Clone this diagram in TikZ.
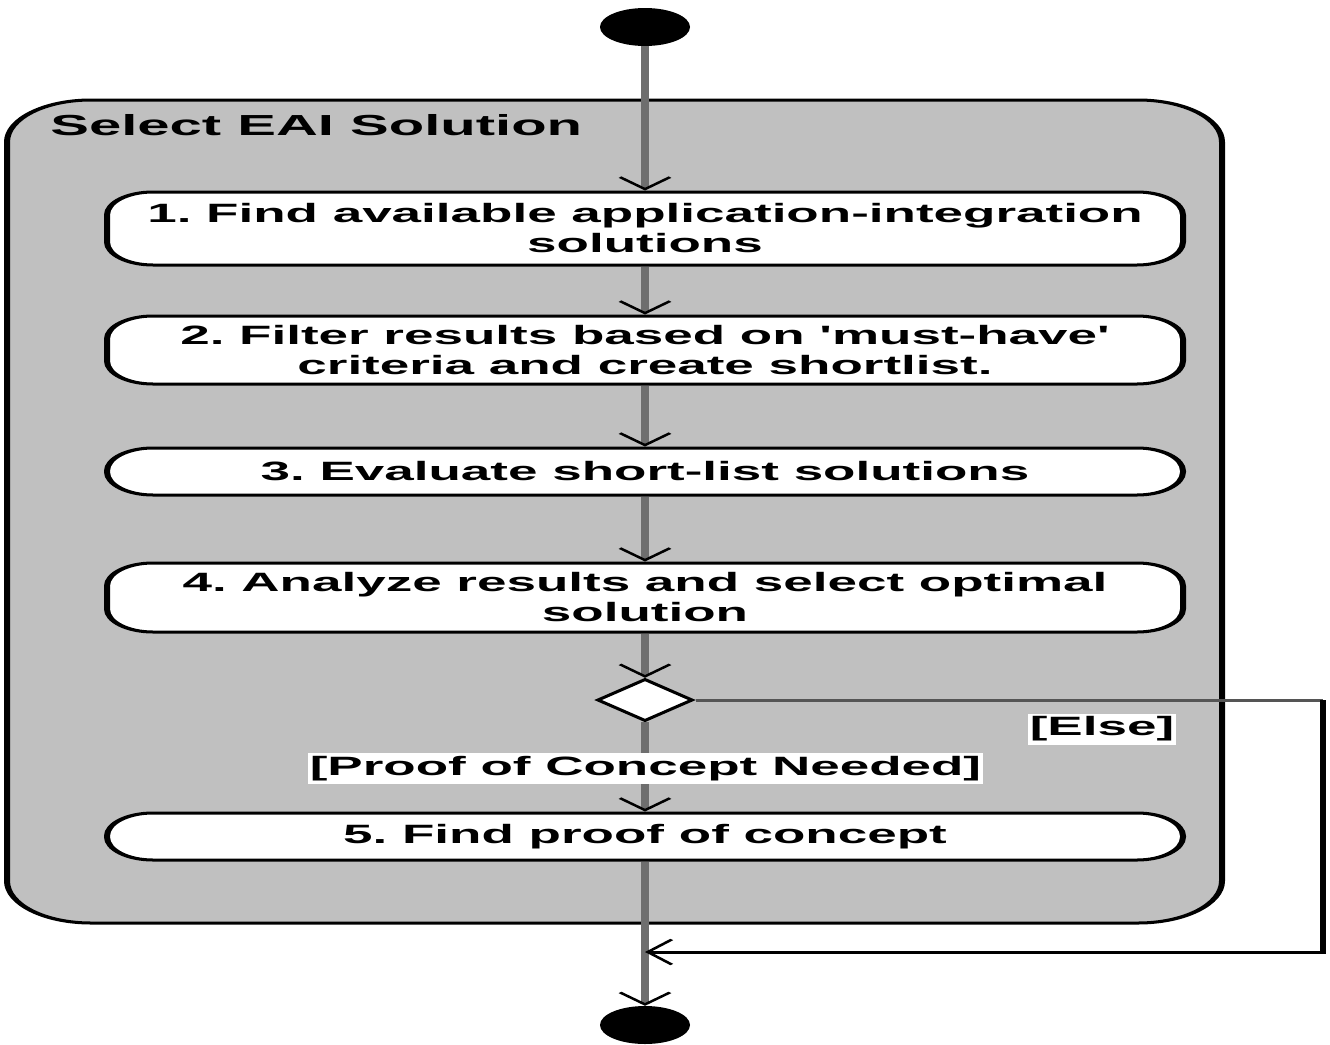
\documentclass[tikz,border=0pt]{standalone}
\usepackage{fontspec}
\setmainfont{Liberation Sans}
\usetikzlibrary{arrows.meta,shapes.geometric}
\definecolor{panelgray}{HTML}{C0C0C0}
\definecolor{flowgray}{HTML}{6E6E6E}
\definecolor{branchgray}{HTML}{555555}

\begin{document}
\frenchspacing
\begin{tikzpicture}[x=1pt,y=-1pt,
  every node/.style={font=\fontsize{26.5}{30}\selectfont\bfseries},
  panel/.style={draw=black, line width=3pt, fill=panelgray, rounded corners=42pt},
  activity/.style={draw=black, line width=3pt, fill=white, rounded corners=23pt,
                   minimum width=538pt, inner sep=0pt, align=center},
  terminal/.style={ellipse, fill=black, minimum width=45pt, minimum height=38pt, inner sep=0pt},
  choice/.style={diamond, draw=black, line width=2.5pt, fill=white,
                 minimum width=48pt, minimum height=42pt, inner sep=0pt},
  guard/.style={fill=white, inner sep=1pt, minimum height=31pt},
  barb/.style={-{Straight Barb[length=12pt,width=25pt,line width=2pt,color=black]}},
  flow/.style={draw=flowgray, line width=4pt, barb},
  branch/.style={draw=black, line width=3pt},
  branchtop/.style={draw=branchgray, line width=3pt},
]
\useasboundingbox (0,0) rectangle (1330,1044);
\begin{scope}[transform canvas={xscale=2}]
  % activity container
  \draw[panel] (3.5,100) rectangle (611,923);
  \node[anchor=west, inner sep=0pt, font=\fontsize{29}{32}\selectfont\bfseries]
    (title) at (25,125) {Select EAI Solution};

  % start and end
  \node[terminal] (start) at (322.5,27) {};
  \node[terminal] (finish) at (322.5,1025) {};

  % actions
  \node[activity, minimum height=73pt] (a1) at (322.5,228.5)
    {1. Find available application-integration\\solutions};
  \node[activity, minimum height=68pt] (a2) at (322.5,350)
    {2. Filter results based on \textquotesingle must-have\textquotesingle\\criteria and create shortlist.};
  \node[activity, minimum height=47pt] (a3) at (322.5,471.5)
    {3. Evaluate short-list solutions};
  \node[activity, minimum height=69pt] (a4) at (322.5,597.5)
    {4. Analyze results and select optimal\\solution};
  \node[choice] (dec) at (322.5,700) {};
  \node[activity, minimum height=47pt] (a5) at (322.5,836.5)
    {5. Find proof of concept};

  % else branch corners and merge point
  \coordinate (c1) at (661.5,700);
  \coordinate (c2) at (661.5,952);
  \coordinate (merge) at (322.5,952);

  % control flow
  \draw[flow] (start) -- (a1.north);
  \draw[flow] (a1.south) -- (a2.north);
  \draw[flow] (a2.south) -- (a3.north);
  \draw[flow] (a3.south) -- (a4.north);
  \draw[flow] (a4.south) -- (dec.north);
  \draw[flow] (dec.south) -- (a5.north);
  \draw[flow] (a5.south) -- (finish.north);
  \draw[branchtop] (dec.east) -- (c1);
  \draw[branch, barb] (c1) -- (c2) -- (merge);

  % guards
  \node[guard] (gpoc) at (322.75,768.5) {[Proof of Concept Needed]};
  \node[guard] (gelse) at (551,729) {[Else]};
\end{scope}
\end{tikzpicture}
\end{document}
